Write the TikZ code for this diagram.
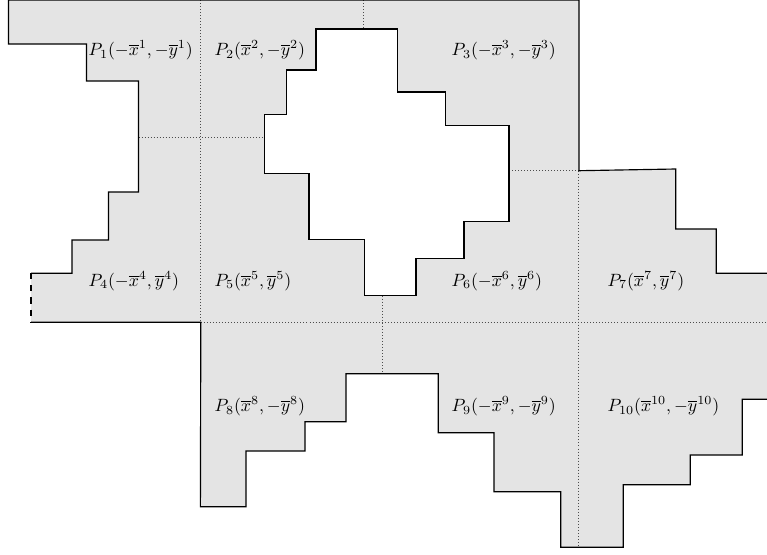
\documentclass[tikz,border=0pt]{standalone}
\usepackage{amsmath}
\usepackage{amssymb}
\definecolor{regionfill}{HTML}{E4E4E4}

% lower part of the boundary, left to right
\newcommand{\regionlower}{(31,322.3) -- (200.8,322.3) -- (200.4,506.8) -- (246,506.8) -- (246,451) -- (305,451)
    -- (305,421.7) -- (346,421.7) -- (346,373.7) -- (438.3,373.7) -- (438.3,432.7) -- (494,432.7)
    -- (494,491.7) -- (560.7,491.7) -- (560.7,547.3) -- (623.3,547.3) -- (623.3,484.7) -- (690.3,484.7)
    -- (690.3,455) -- (742.3,455) -- (742.3,399.3) -- (767,399.3)}
% upper part of the boundary, right to left
\newcommand{\regionupper}{(767,273.3) -- (716.3,273.3) -- (716.3,229) -- (675.7,229) -- (675.7,169) -- (579,170.7)
    -- (579,0) -- (8.5,0) -- (8.5,44) -- (86.5,44) -- (86.5,81) -- (138.5,81) -- (138.5,192)
    -- (108.5,192) -- (108.5,240) -- (72,240) -- (72,273.3) -- (31,273.3)}
% the hole
\newcommand{\regionhole}{(316,29) -- (397.7,29) -- (397.7,92) -- (445.7,92) -- (445.7,125.3) -- (509,125.3)
    -- (509,221.3) -- (464,221.3) -- (464,258.3) -- (416,258.3) -- (416,295.7) -- (364.3,295.7)
    -- (364.3,239.7) -- (309,239.7) -- (309,173.7) -- (264.3,173.7) -- (264.3,114.3) -- (286.7,114.3)
    -- (286.7,70) -- (316,70) -- cycle}

\begin{document}
\begin{tikzpicture}[
    x=0.563pt, y=-0.563pt,
    border/.style={line width=0.65pt, line join=miter},
    gap/.style={line width=0.65pt, dash pattern=on 3.4pt off 3.4pt},
    cut/.style={line width=0.3pt, dash pattern=on 0.3pt off 1.4pt, black!70},
    piece/.style={anchor=base west, inner sep=0pt}
]
\useasboundingbox (0,0) rectangle (767,554);

% --- Shaded region ---
\fill[regionfill, even odd rule] \regionlower -- \regionupper -- cycle \regionhole;

% --- Dotted cuts ---
\draw[cut] (200.5,0) -- (200.5,322.3);
\draw[cut] (363.5,0) -- (363.5,29);
\draw[cut] (138.5,137) -- (264.3,137);
\draw[cut] (509,170.7) -- (579,170.7);
\draw[cut] (578,170.7) -- (578,547.3);
\draw[cut] (200.8,322.5) -- (767,322.5);
\draw[cut] (382,295.7) -- (382,373.7);

% --- Boundary ---
\draw[border] \regionlower;
\draw[border] \regionupper;
\draw[border] \regionhole;
\coordinate (gaptop) at (31,273.3);
\coordinate (gapbot) at (31,322.3);
\draw[gap] (gaptop) -- (gapbot);

% --- Labels ---
\node[piece] (p1) at (88.3,55.5) {$P_1(-\overline{x}^1,-\overline{y}^1)$};
\node[piece] (p2) at (214.3,55.5) {$P_2(\overline{x}^2,-\overline{y}^2)$};
\node[piece] (p3) at (451.3,55.5) {$P_3(-\overline{x}^3,-\overline{y}^3)$};
\node[piece] (p4) at (88.3,286) {$P_4(-\overline{x}^4,\overline{y}^4)$};
\node[piece] (p5) at (214.3,286) {$P_5(\overline{x}^5,\overline{y}^5)$};
\node[piece] (p6) at (451.3,286) {$P_6(-\overline{x}^6,\overline{y}^6)$};
\node[piece] (p7) at (607.3,286) {$P_7(\overline{x}^7,\overline{y}^7)$};
\node[piece] (p8) at (214.3,411.5) {$P_8(\overline{x}^8,-\overline{y}^8)$};
\node[piece] (p9) at (451.3,411.5) {$P_9(-\overline{x}^9,-\overline{y}^9)$};
\node[piece] (p10) at (607.3,411.5) {$P_{10}(\overline{x}^{10},-\overline{y}^{10})$};

\end{tikzpicture}
\end{document}
